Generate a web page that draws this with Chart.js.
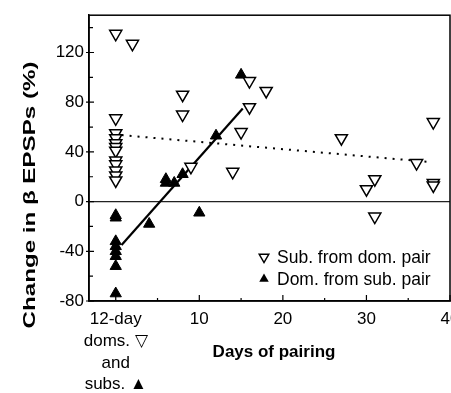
<!DOCTYPE html>
<html>
<head>
<meta charset="utf-8">
<script src="https://cdn.jsdelivr.net/npm/chart.js@4.4.1/dist/chart.umd.min.js"></script>
<style>
  html, body { margin: 0; padding: 0; background: #fff; overflow: hidden; }
  #wrap { position: relative; width: 470px; height: 393px; }
</style>
</head>
<body>
<div id="wrap"><canvas id="chart"></canvas></div>
<script>
// Sub. from dom. pair (open, pointing down)
const subDays = [0, 0, 0, 0, 0, 0, 0, 0, 0, 0, 0, 0, 2, 8, 8, 9, 14, 15, 16, 16, 18, 27, 30, 31, 31, 36, 38, 38, 38];
const subChange = [135, 67, 55, 51, 47, 44, 41, 33, 30, 25, 21, 17, 127, 86, 70, 28, 24, 56, 97, 76, 89, 51, 10, 18, -12, 31, 64, 15, 13];

// Dom. from sub. pair (filled, pointing up)
const domDays = [0, 0, 0, 0, 0, 0, 0, 0, 4, 6, 6, 7, 8, 10, 12, 15];
const domChange = [-11, -13, -32, -36, -40, -44, -52, -74, -18, 18, 15, 15, 22, -9, 53, 102];

// regression lines (ends)
const subFitDays = [0.7, 37.4];
const subFitChange = [53.5, 32];
const domFitDays = [0.7, 15.2];
const domFitChange = [-35, 75];

const xTicks = [0, 10, 20, 30, 40];
const xMinor = [5, 15, 25, 35];
const yTicks = [-80, -40, 0, 40, 80, 120];
const yMinor = [-60, -20, 20, 60, 100, 140];
const firstTickLabel = ['12-day', 'doms. \u25BD', 'and', 'subs. \u25B2'];

const legendItems = [
  { text: 'Sub. from dom. pair', filled: false },
  { text: 'Dom. from sub. pair', filled: true }
];

const FONT = "'Liberation Sans', Arial, Helvetica, sans-serif";

const toPoints = (xs, ys) => xs.map((x, i) => ({ x: x, y: ys[i] }));

function triangle(ctx, x, y, r, down, filled) {
  const h = 1.5 * r, w = r * Math.sqrt(3);
  ctx.beginPath();
  if (down) {
    ctx.moveTo(x - w / 2, y - r / 2);
    ctx.lineTo(x + w / 2, y - r / 2);
    ctx.lineTo(x, y + r);
  } else {
    ctx.moveTo(x - w / 2, y + r / 2);
    ctx.lineTo(x + w / 2, y + r / 2);
    ctx.lineTo(x, y - r);
  }
  ctx.closePath();
  if (filled) {
    ctx.fillStyle = '#000';
    ctx.fill();
  } else {
    ctx.fillStyle = '#fff';
    ctx.fill();
    ctx.lineWidth = 1.5;
    ctx.strokeStyle = '#000';
    ctx.stroke();
  }
}

const decorations = {
  id: 'decorations',
  afterDraw(chart) {
    const { ctx, chartArea: a, scales } = chart;
    const xs = scales.x, ys = scales.y;
    ctx.save();

    // frame
    ctx.strokeStyle = '#000';
    ctx.lineWidth = 1.5;
    ctx.strokeRect(a.left, a.top, a.right - a.left, a.bottom - a.top);

    // tick marks, inward
    ctx.lineWidth = 1.2;
    ctx.beginPath();
    xTicks.forEach(v => {
      const px = xs.getPixelForValue(v);
      ctx.moveTo(px, a.bottom); ctx.lineTo(px, a.bottom - 6);
    });
    xMinor.forEach(v => {
      const px = xs.getPixelForValue(v);
      ctx.moveTo(px, a.bottom); ctx.lineTo(px, a.bottom - 3);
    });
    yTicks.forEach(v => {
      const py = ys.getPixelForValue(v);
      ctx.moveTo(a.left - 3, py); ctx.lineTo(a.left + 5, py);
    });
    yMinor.forEach(v => {
      const py = ys.getPixelForValue(v);
      ctx.moveTo(a.left, py); ctx.lineTo(a.left + 4, py);
    });
    ctx.stroke();

    // axis titles
    ctx.fillStyle = '#000';
    ctx.font = 'bold 17px ' + FONT;
    ctx.textAlign = 'center';
    ctx.textBaseline = 'middle';
    ctx.fillText('Days of pairing', 274, 352);

    ctx.save();
    ctx.translate(30, 195);
    ctx.rotate(-Math.PI / 2);
    ctx.scale(1.42, 1);
    ctx.fillText('Change in \u03B2 EPSPs (%)', 0, 0);
    ctx.restore();

    // legend
    ctx.font = '17.5px ' + FONT;
    ctx.textAlign = 'left';
    legendItems.forEach((item, i) => {
      const y = 257 + i * 22;
      triangle(ctx, 264, y, 5.5, !item.filled, item.filled);
      ctx.fillStyle = '#000';
      ctx.fillText(item.text, 277, y + 1);
    });

    ctx.restore();
  }
};

new Chart(document.getElementById('chart'), {
  type: 'scatter',
  data: {
    datasets: [
      {
        label: 'Sub. from dom. pair',
        data: toPoints(subDays, subChange),
        pointStyle: 'triangle',
        rotation: 180,
        radius: 7,
        backgroundColor: '#fff',
        borderColor: '#000',
        borderWidth: 1.5
      },
      {
        label: 'Dom. from sub. pair',
        data: toPoints(domDays, domChange),
        pointStyle: 'triangle',
        radius: 6.5,
        backgroundColor: '#000',
        borderColor: '#000',
        borderWidth: 1
      },
      {
        label: 'sub fit',
        data: toPoints(subFitDays, subFitChange),
        showLine: true,
        borderColor: '#000',
        borderWidth: 2,
        borderDash: [2, 6],
        pointRadius: 0,
        order: 5
      },
      {
        label: 'dom fit',
        data: toPoints(domFitDays, domFitChange),
        showLine: true,
        borderColor: '#000',
        borderWidth: 2.2,
        pointRadius: 0,
        order: 5
      }
    ]
  },
  options: {
    responsive: true,
    maintainAspectRatio: false,
    animation: false,
    layout: { padding: { top: 13, right: 20, left: 0, bottom: 0 } },
    plugins: {
      legend: { display: false },
      tooltip: { enabled: false }
    },
    scales: {
      x: {
        type: 'linear',
        min: -3.2,
        max: 40,
        afterBuildTicks: axis => { axis.ticks = xTicks.map(v => ({ value: v })); },
        afterFit: scale => { scale.height = 92; },
        grid: { display: false, drawTicks: false },
        border: { display: true, color: '#000', width: 1.5 },
        ticks: {
          color: '#000',
          padding: 8,
          maxRotation: 0,
          autoSkip: false,
          font: { family: FONT, size: 17, lineHeight: 1.27 },
          callback: v => v === 0 ? firstTickLabel : String(v)
        }
      },
      y: {
        min: -80,
        max: 150,
        afterBuildTicks: axis => { axis.ticks = yTicks.map(v => ({ value: v })); },
        afterFit: scale => { scale.width = 89; },
        grid: {
          drawTicks: false,
          lineWidth: 1.2,
          color: c => (c.tick && c.tick.value === 0) ? '#222' : 'rgba(0,0,0,0)'
        },
        border: { display: true, color: '#000', width: 1.5 },
        ticks: {
          color: '#000',
          padding: 5,
          font: { family: FONT, size: 17 }
        }
      }
    }
  },
  plugins: [decorations]
});
</script>
</body>
</html>
